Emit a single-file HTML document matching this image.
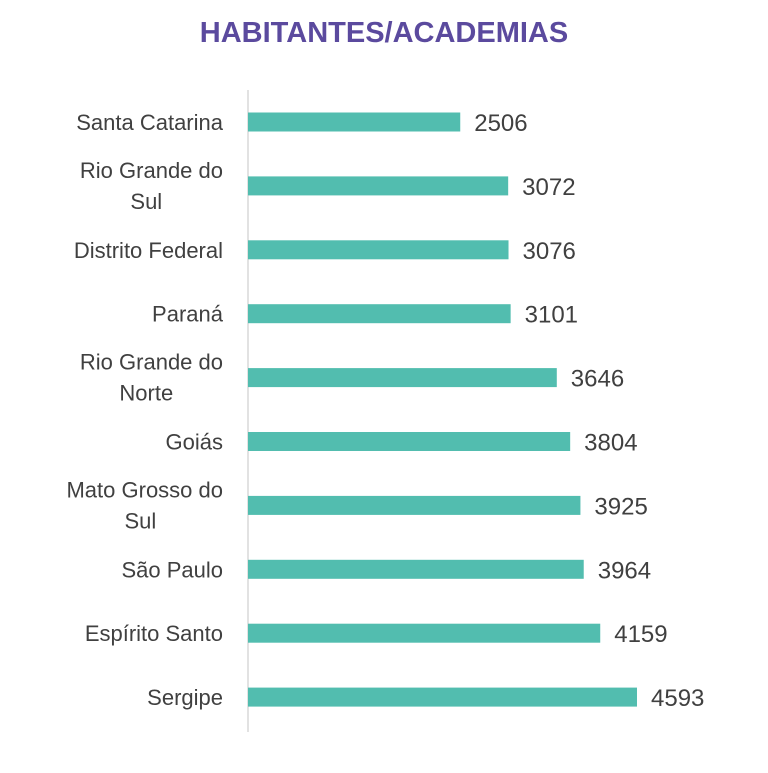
<!DOCTYPE html>
<html><head><meta charset="utf-8"><style>
body{margin:0;width:768px;height:768px;background:#fff;overflow:hidden;font-family:"Liberation Sans",sans-serif}
</style></head><body>
<svg width="768" height="768">
<text x="384" y="-6" text-anchor="middle" font-size="30" font-weight="bold" fill="#5b4a9e">RANKING DE ESTADOS POR</text>
<text x="384" y="42" text-anchor="middle" font-size="29" font-weight="bold" fill="#5b4a9e">HABITANTES/ACADEMIAS</text>
<line x1="248" y1="90" x2="248" y2="732" stroke="#d9d9d9" stroke-width="1.5"/>
<g id="bars"></g>
</svg>
<script>
const categories=[["Santa Catarina"],["Rio Grande do","Sul"],["Distrito Federal"],["Paraná"],["Rio Grande do","Norte"],["Goiás"],["Mato Grosso do","Sul"],["São Paulo"],["Espírito Santo"],["Sergipe"]];
const values=[2506,3072,3076,3101,3646,3804,3925,3964,4159,4593];
const x0=248, scale=389/4593, y0=122, step=63.9, bh=19;
const g=document.getElementById('bars');
const NS='http://www.w3.org/2000/svg';
function xs(v){return v*scale;}
function ys(i){return y0+i*step;}
values.forEach((v,i)=>{
  const cy=ys(i);
  const r=document.createElementNS(NS,'rect');
  r.setAttribute('x',x0);r.setAttribute('y',cy-bh/2);r.setAttribute('width',xs(v));r.setAttribute('height',bh);r.setAttribute('fill','#52bdaf');
  
  
  g.appendChild(r);
  const t=document.createElementNS(NS,'text');
  t.setAttribute('x',x0+xs(v)+14);t.setAttribute('y',cy+9);t.setAttribute('font-size','24');t.setAttribute('fill','#404040');
  t.textContent=v;
  
  
  g.appendChild(t);
  const lines=categories[i];
  lines.forEach((ln,j)=>{
    const c=document.createElementNS(NS,'text');
    const yy=lines.length===1?cy+8:cy-8+j*31;
    c.setAttribute('x',223);c.setAttribute('y',yy);c.setAttribute('text-anchor','middle');
    c.setAttribute('font-size','22');c.setAttribute('fill','#404040');
    c.textContent=ln;
    
    
    g.appendChild(c);
    const w=c.getComputedTextLength();
    if(lines.length===1||j===0){c.setAttribute('text-anchor','end');}
    else{c.setAttribute('text-anchor','middle');
      const first=lines[0];
      c.setAttribute('x',223-first.length*5.9);}
  });
});
</script>
</body></html>
